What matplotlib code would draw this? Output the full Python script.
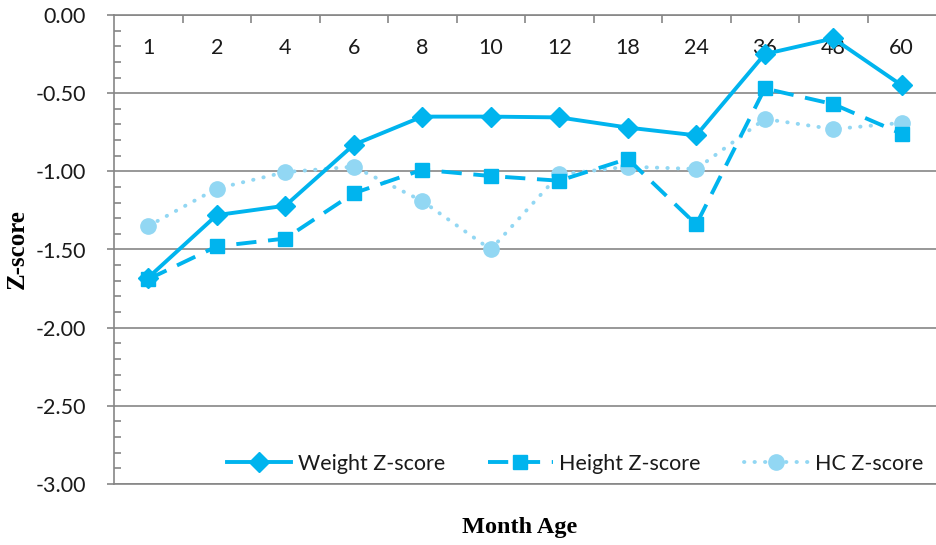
import numpy as np
import matplotlib
matplotlib.use('Agg')
from matplotlib import pyplot as plt
from matplotlib.ticker import MultipleLocator, FormatStrFormatter

# month age categories
months = ['1', '2', '4', '6', '8', '10', '12', '18', '24', '36', '48', '60']

weight_z = [-1.68, -1.28, -1.22, -0.83, -0.65, -0.65, -0.655, -0.72, -0.77, -0.25, -0.15, -0.45]
height_z = [-1.69, -1.48, -1.43, -1.14, -0.99, -1.03, -1.06, -0.92, -1.34, -0.47, -0.57, -0.76]
hc_z = [-1.35, -1.11, -1.005, -0.97, -1.19, -1.50, -1.02, -0.97, -0.985, -0.665, -0.73, -0.69]

BLUE = '#00B4EE'
LIGHT = '#92D7F3'
GRID = '#868686'
TXT = '#1a1a1a'

plt.rcParams['font.family'] = ['Lato', 'DejaVu Sans']

fig = plt.figure(figsize=(9.36, 5.45), dpi=100)
ax = fig.add_axes([114 / 936, 1 - 484 / 545, 1 - 114 / 936, (484 - 15) / 545])

x = np.arange(len(months))

ax.plot(x, hc_z, color=LIGHT, lw=2.8, linestyle=(0, (0.1, 2.6)),
        dash_capstyle='round', marker='o', ms=11, mec=LIGHT, mfc=LIGHT,
        label='HC Z-score', zorder=3)
ax.plot(x, height_z, color=BLUE, lw=2.8, linestyle=(0, (5.2, 3.0)),
        marker='s', ms=10, mec=BLUE, mfc=BLUE, label='Height Z-score', zorder=4)
ax.plot(x, weight_z, color=BLUE, lw=2.8, linestyle='-',
        marker='D', ms=10.5, mec=BLUE, mfc=BLUE, label='Weight Z-score', zorder=5)

ax.set_xlim(-0.5, len(months) - 0.5)
ax.set_ylim(-3.0, 0.0)

# y axis
ax.yaxis.set_major_locator(MultipleLocator(0.5))
ax.yaxis.set_minor_locator(MultipleLocator(0.1))
ax.yaxis.set_major_formatter(FormatStrFormatter('%.2f'))
ax.tick_params(axis='y', which='major', direction='out', length=5, width=1.2,
               color=GRID, labelsize=15.5, pad=15, labelcolor=TXT)
ax.tick_params(axis='y', which='minor', direction='in', length=5, width=1.2, color=GRID)
ax.grid(axis='y', which='major', color=GRID, lw=1.2)

# categories on top, labels inside the plot
ax.xaxis.tick_top()
ax.set_xticks(x)
ax.set_xticklabels(months)
ax.set_xticks(x[:-1] + 0.5, minor=True)
ax.tick_params(axis='x', which='major', length=0, labelsize=15.5, pad=-31,
               labelcolor=TXT)
ax.tick_params(axis='x', which='minor', direction='in', length=6, width=1.2,
               color=GRID, top=True, bottom=False)

ax.spines['right'].set_visible(False)
for s in ['left', 'top', 'bottom']:
    ax.spines[s].set_color(GRID)
    ax.spines[s].set_linewidth(1.2)

fig.text(17 / 936, 1 - 249 / 545, 'Z-score', family='Liberation Serif',
         fontweight='bold', fontsize=18, rotation=90, ha='center', va='center')
fig.text(520 / 936, 1 - 527 / 545, 'Month Age', family='Liberation Serif',
         fontweight='bold', fontsize=17.5, ha='center', va='center')

h, l = ax.get_legend_handles_labels()
order = [2, 1, 0]
leg = ax.legend([h[i] for i in order], [l[i] for i in order], ncol=3, frameon=False,
                loc='lower right', bbox_to_anchor=(1.008, -0.02), fontsize=15.5,
                handlelength=3.0, columnspacing=2.0, handletextpad=0.3)
for t in leg.get_texts():
    t.set_color(TXT)

fig.savefig('out.png', dpi=100)
